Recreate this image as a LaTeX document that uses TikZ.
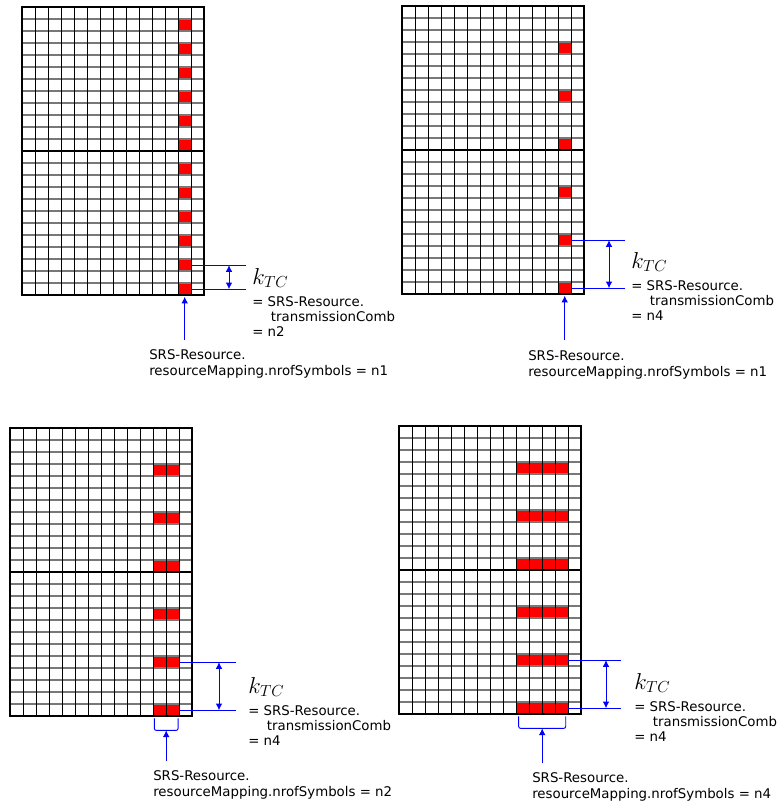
\documentclass[tikz,border=0pt]{standalone}
\usepackage{fontspec}
\setmainfont{DejaVu Sans}
\usepackage{xcolor}
\usepackage{tikz}
\usetikzlibrary{arrows.meta, positioning}
\definecolor{srsred}{RGB}{255,0,0}
\definecolor{dimblue}{RGB}{0,0,255}
\definecolor{rowgray}{RGB}{120,120,120}

\begin{document}
\begin{tikzpicture}[
    x=0.75pt, y=-0.75pt,
    redcell/.style={rectangle, draw=black!60, fill=srsred, line width=0.3pt, inner sep=0pt, anchor=north west, minimum height=9pt, minimum width=#1},
    redcell/.default=9.75pt,
    hline/.style={rowgray, line width=0.95pt},
    vline/.style={black, line width=0.75pt},
    dimline/.style={dimblue, line width=0.7pt},
    dimarrow/.style={dimblue, line width=0.7pt, {Latex[length=5pt,width=5pt]}-{Latex[length=5pt,width=5pt]}},
    uparrow/.style={dimblue, line width=0.7pt, -{Latex[length=5pt,width=5pt]}},
    brk/.style={dimblue, line width=0.7pt, rounded corners=1.5pt},
    ktc/.style={inner sep=0pt, font=\fontsize{17}{19}\selectfont},
    deftext/.style={inner sep=0pt, anchor=north west, align=left, font=\fontsize{10}{11.5}\selectfont},
    labtext/.style={inner xsep=0pt, inner ysep=7.5pt, anchor=north west, align=left, font=\fontsize{10}{12}\selectfont},
    srsgrid/.pic={
        \foreach \r in {1,...,23} \draw[hline] (0,\r*12) -- (182,\r*12);
        \foreach \c in {1,...,13} \draw[vline] (\c*13,0) -- (\c*13,288);
        \draw[black, line width=1.2pt] (0,144) -- (182,144);
        \draw[black, line width=1.6pt] (0,0) rectangle (182,288);
    }
]
\useasboundingbox (0,0) rectangle (784,803);

% top left: comb 2, one symbol
\foreach \r in {1,3,...,23}
    \node[redcell] (a\r) at (178,{7+\r*12}) {};
\pic at (22,7) {srsgrid};
\coordinate (am) at (229,0);
\coordinate (ar) at (246,0);
\draw[dimline] (a21.east) -- (a21 -| ar);
\draw[dimline] (a23.east) -- (a23 -| ar);
\draw[dimarrow] (a21 -| am) -- (a23 -| am);
\node[deftext] (adef) at (252,296) {= SRS-Resource.\\\hspace*{1.4em}transmissionComb\\= n2};
\node[ktc, above=6pt of adef.north west, anchor=south west] (ak) {$k_{TC}$};
\node[labtext] (alab) at (149,339.5) {SRS-Resource.\\resourceMapping.nrofSymbols = n1};
\draw[uparrow] (a23.south |- alab.north) -- ([yshift=-1pt]a23.south);

% top right: comb 4, one symbol
\foreach \r in {3,7,...,23}
    \node[redcell] (b\r) at (558,{6+\r*12}) {};
\pic at (402,6) {srsgrid};
\coordinate (bm) at (609,0);
\coordinate (br) at (625,0);
\draw[dimline] (b19.east) -- (b19 -| br);
\draw[dimline] (b23.east) -- (b23 -| br);
\draw[dimarrow] (b19 -| bm) -- (b23 -| bm);
\node[deftext] (bdef) at (631,280) {= SRS-Resource.\\\hspace*{1.4em}transmissionComb\\= n4};
\node[ktc, above=6pt of bdef.north west, anchor=south west] (bk) {$k_{TC}$};
\node[labtext] (blab) at (528,340) {SRS-Resource.\\resourceMapping.nrofSymbols = n1};
\draw[uparrow] (b23.south |- blab.north) -- ([yshift=-1pt]b23.south);

% bottom left: comb 4, two symbols
\foreach \r in {3,7,...,23}
    \node[redcell=19.5pt] (c\r) at (153,{428+\r*12}) {};
\pic at (10,428) {srsgrid};
\coordinate (cm) at (219,0);
\coordinate (cr) at (236,0);
\draw[dimline] (c19.east) -- (c19 -| cr);
\draw[dimline] (c23.east) -- (c23 -| cr);
\draw[dimarrow] (c19 -| cm) -- (c23 -| cm);
\node[deftext] (cdef) at (248,705) {= SRS-Resource.\\\hspace*{1.4em}transmissionComb\\= n4};
\node[ktc, above=6pt of cdef.north west, anchor=south west] (ck) {$k_{TC}$};
\coordinate (cb) at ([yshift=-10.5pt]c23.south);
\draw[brk] ([xshift=1pt,yshift=-1.5pt]c23.south west) |- (cb) -| ([xshift=-1pt,yshift=-1.5pt]c23.south east);
\node[labtext] (clab) at (153,760.5) {SRS-Resource.\\resourceMapping.nrofSymbols = n2};
\draw[uparrow] (cb |- clab.north) -- (cb);

% bottom right: comb 4, four symbols
\foreach \r in {3,7,...,23}
    \node[redcell=39pt] (d\r) at (516,{426+\r*12}) {};
\pic at (399,426) {srsgrid};
\coordinate (dm) at (606,0);
\coordinate (dr) at (621,0);
\draw[dimline] (d19.east) -- (d19 -| dr);
\draw[dimline] (d23.east) -- (d23 -| dr);
\draw[dimarrow] (d19 -| dm) -- (d23 -| dm);
\node[deftext] (ddef) at (634,701) {= SRS-Resource.\\\hspace*{1.4em}transmissionComb\\= n4};
\node[ktc, above=6pt of ddef.north west, anchor=south west] (dk) {$k_{TC}$};
\coordinate (db) at ([yshift=-10.5pt]d23.south);
\draw[brk] ([xshift=2pt,yshift=-1.5pt]d23.south west) |- (db) -| ([xshift=-2pt,yshift=-1.5pt]d23.south east);
\node[labtext] (dlab) at (532,762.5) {SRS-Resource.\\resourceMapping.nrofSymbols = n4};
\draw[uparrow] (db |- dlab.north) -- (db);
\end{tikzpicture}
\end{document}
